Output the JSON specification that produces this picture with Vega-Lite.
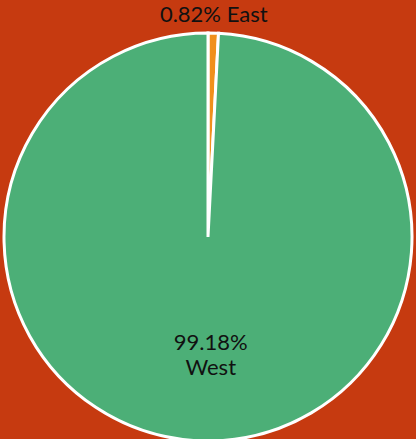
{
  "$schema": "https://vega.github.io/schema/vega-lite/v6.json",
  "autosize": {"type": "none"},
  "width": 416,
  "height": 404,
  "padding": {"left": 0, "right": 0, "top": 35, "bottom": 0},
  "background": "#c63a10",
  "config": {"view": {"stroke": null}},
  "data": {
    "values": [
      {"region": "East", "share": 0.82, "label": "0.82% East"},
      {"region": "West", "share": 99.18, "label": "99.18%\nWest"}
    ]
  },
  "encoding": {
    "theta": {"field": "share", "type": "quantitative", "stack": true},
    "order": {"field": "region", "sort": "ascending"}
  },
  "layer": [
    {
      "mark": {"type": "arc", "outerRadius": 204, "stroke": "white", "strokeWidth": 3},
      "encoding": {
        "color": {
          "field": "region",
          "type": "nominal",
          "scale": {"domain": ["East", "West"], "range": ["#f0901c", "#4caf77"]},
          "legend": null
        }
      }
    },
    {
      "transform": [{"filter": "datum.region === 'East'"}],
      "mark": {"type": "text", "radius": 222, "font": "Lato", "fontSize": 22, "color": "#111111"},
      "encoding": {"text": {"field": "label"}}
    },
    {
      "transform": [{"filter": "datum.region === 'West'"}],
      "mark": {"type": "text", "radius": 106, "font": "Lato", "fontSize": 22, "color": "#111111", "lineBreak": "\n", "lineHeight": 25},
      "encoding": {"text": {"field": "label"}}
    }
  ]
}
